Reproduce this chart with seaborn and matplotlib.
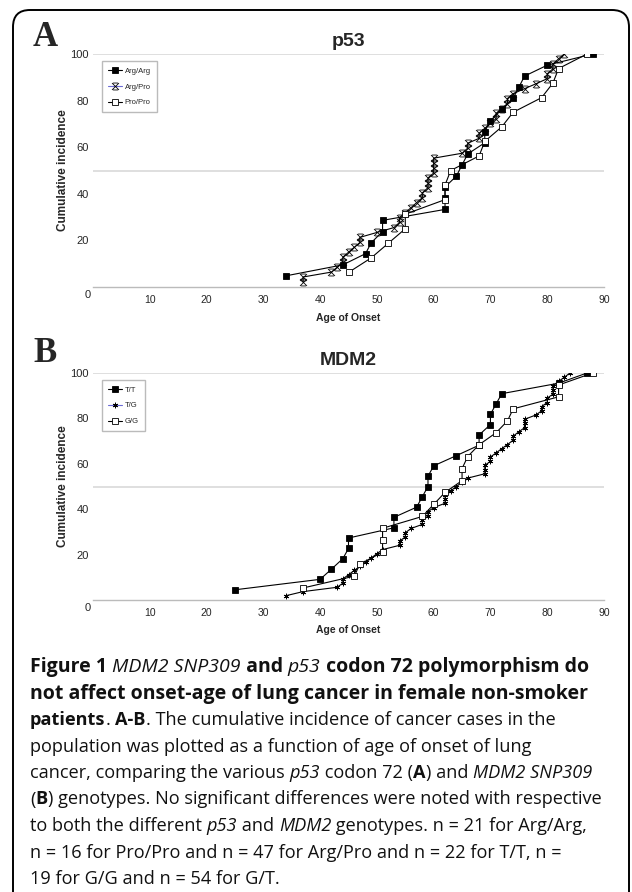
import matplotlib
matplotlib.use("Agg")
import matplotlib.pyplot as plt
from matplotlib.path import Path
from matplotlib.lines import Line2D
from matplotlib.patches import FancyBboxPatch
import seaborn as sns

# ---- panel A: p53 codon 72 (age of onset, cumulative incidence %) ----
argarg_age = [34, 44, 48, 49, 51, 51, 62, 62, 62, 64, 65, 66, 69, 69, 70, 72, 74, 75, 76, 80, 88]
argarg_inc = [4.8, 9.5, 14.3, 19.0, 23.8, 28.6, 33.3, 38.1, 42.9, 47.6, 52.4, 57.1, 61.9, 66.7,
              71.4, 76.2, 81.0, 85.7, 90.5, 95.2, 100]

argpro_age = [37, 37, 42, 43, 44, 44, 45, 46, 47, 47, 50, 53, 54, 54, 55, 56, 57, 58, 58, 59,
              59, 59, 60, 60, 60, 60, 65, 66, 66, 68, 68, 69, 70, 71, 71, 72, 73, 73, 74, 76,
              78, 80, 80, 81, 81, 82, 83]
argpro_inc = [2.1, 4.3, 6.4, 8.5, 10.6, 12.8, 14.9, 17.0, 19.1, 21.3, 23.4, 25.5, 27.7, 29.8,
              31.9, 34.0, 36.2, 38.3, 40.4, 42.6, 44.7, 46.8, 48.9, 51.1, 53.2, 55.3, 57.4,
              59.6, 61.7, 63.8, 66.0, 68.1, 70.2, 72.3, 74.5, 76.6, 78.7, 80.9, 83.0, 85.1,
              87.2, 89.4, 91.5, 93.6, 95.7, 97.9, 100]

propro_age = [45, 49, 52, 55, 55, 62, 62, 63, 68, 69, 72, 74, 79, 81, 82, 87]
propro_inc = [6.25, 12.5, 18.75, 25.0, 31.25, 37.5, 43.75, 50.0, 56.25, 62.5, 68.75, 75.0,
              81.25, 87.5, 93.75, 100]

# ---- panel B: MDM2 SNP309 ----
tt_age = [25, 40, 42, 44, 45, 45, 53, 53, 57, 58, 59, 59, 60, 64, 68, 68, 70, 70, 71, 72, 82, 87]
tt_inc = [4.5, 9.1, 13.6, 18.2, 22.7, 27.3, 31.8, 36.4, 40.9, 45.5, 50.0, 54.5, 59.1, 63.6,
          68.2, 72.7, 77.3, 81.8, 86.4, 90.9, 95.5, 100]

tg_age = [34, 37, 43, 44, 44, 45, 46, 47, 48, 49, 50, 51, 54, 54, 55, 55, 56, 58, 58, 59,
          59, 60, 62, 62, 62, 63, 64, 65, 66, 69, 69, 69, 70, 70, 71, 72, 73, 74, 74, 75,
          76, 76, 76, 78, 79, 79, 80, 80, 81, 81, 81, 82, 83, 84]
tg_inc = [1.9, 3.7, 5.6, 7.4, 9.3, 11.1, 13.0, 14.8, 16.7, 18.5, 20.4, 22.2, 24.1, 25.9,
          27.8, 29.6, 31.5, 33.3, 35.2, 37.0, 38.9, 40.7, 42.6, 44.4, 46.3, 48.1, 50.0,
          51.9, 53.7, 55.6, 57.4, 59.3, 61.1, 63.0, 64.8, 66.7, 68.5, 70.4, 72.2, 74.1,
          75.9, 77.8, 79.6, 81.5, 83.3, 85.2, 87.0, 88.9, 90.7, 92.6, 94.4, 96.3, 98.1, 100]

gg_age = [37, 46, 47, 51, 51, 51, 58, 60, 62, 65, 65, 66, 68, 71, 73, 74, 82, 82, 88]
gg_inc = [5.3, 10.5, 15.8, 21.1, 26.3, 31.6, 36.8, 42.1, 47.4, 52.6, 57.9, 63.2, 68.4, 73.7,
          78.9, 84.2, 89.5, 94.7, 100]

x_ticks = [10, 20, 30, 40, 50, 60, 70, 80, 90]
y_ticks = [20, 40, 60, 80, 100]

sns.set_style("white")
plt.rcParams["font.family"] = ["Liberation Sans", "DejaVu Sans"]

# x with bars on top and bottom (Excel style marker)
xbar = Path([(-1, -1), (1, 1), (-1, 1), (1, -1), (-0.7, 1), (0.7, 1), (-0.7, -1), (0.7, -1)],
            [Path.MOVETO, Path.LINETO] * 4)
asterisk = (6, 2, 0)

W, H = 632, 892
fig = plt.figure(figsize=(W / 100, H / 100), dpi=100)

# rounded frame around the figure
fig.add_artist(FancyBboxPatch((0.13, -0.5), 6.16, 9.32,
                              boxstyle="round,pad=0,rounding_size=0.17",
                              transform=fig.dpi_scale_trans, fill=False,
                              lw=1.4, ec="black"))


def panel(rect, series, title, letter, letter_y):
    ax = fig.add_axes(rect)
    ax.axhline(50, color="#d9d9d9", lw=1.2, zorder=0)
    ax.axhline(100, color="#d9d9d9", lw=1.2, zorder=0)
    handles = []
    for name, ages, inc, mk, ms, fc, legc in series:
        sns.lineplot(x=ages, y=inc, ax=ax, sort=False, estimator=None, color="black",
                     lw=0.8, marker=mk, markersize=ms, markerfacecolor=fc,
                     markeredgecolor="black", markeredgewidth=0.6)
        handles.append(Line2D([], [], color=legc, lw=0.8, marker=mk, markersize=ms,
                              markerfacecolor=fc, markeredgecolor="black",
                              markeredgewidth=0.6, label=name))
    ax.set_xlim(0, 90)
    ax.set_ylim(0, 100)
    ax.set_xticks(x_ticks)
    ax.set_yticks(y_ticks)
    ax.tick_params(axis="x", direction="in", length=3, color="#aaaaaa", labelsize=7.5, pad=6)
    ax.tick_params(axis="y", length=0, labelsize=8, pad=3)
    for s in ["top", "right", "left"]:
        ax.spines[s].set_visible(False)
    ax.spines["bottom"].set_color("#bbbbbb")
    ax.spines["bottom"].set_linewidth(1.0)
    ax.annotate("0", xy=(0, 0), xytext=(-4, -6), textcoords="offset points",
                ha="center", va="center", fontsize=8)
    ax.set_title(title, fontsize=14, fontweight="bold", pad=6)
    ax.set_ylabel("Cumulative incidence", fontsize=8.5, fontweight="bold")
    ax.yaxis.set_label_coords(-0.047, 0.5)
    ax.set_xlabel("Age of Onset", fontsize=7.5, fontweight="bold")
    ax.xaxis.set_label_coords(0.5, -0.11)
    ax.legend(handles=handles, loc="upper left", bbox_to_anchor=(0.01, 0.985),
              fontsize=5.5, frameon=True, fancybox=False, edgecolor="#bbbbbb",
              handlelength=1.8, handletextpad=0.4, borderpad=0.8, labelspacing=1.1,
              framealpha=1)
    fig.text(45 / W, letter_y, letter, family="Liberation Serif", fontweight="bold",
             fontsize=25, ha="center", va="center")
    return ax


blue = "#6b6bd6"
panel([93 / W, 1 - 287 / H, 511 / W, 233 / H],
      [("Arg/Arg", argarg_age, argarg_inc, "s", 4, "black", "black"),
       ("Arg/Pro", argpro_age, argpro_inc, xbar, 5, "none", blue),
       ("Pro/Pro", propro_age, propro_inc, "s", 4, "white", "black")],
      "p53", "A", 1 - 38 / H)
panel([93 / W, 1 - 600 / H, 511 / W, 227 / H],
      [("T/T", tt_age, tt_inc, "s", 5, "black", "black"),
       ("T/G", tg_age, tg_inc, asterisk, 4, "none", blue),
       ("G/G", gg_age, gg_inc, "s", 5, "white", "black")],
      "MDM2", "B", 1 - 353 / H)

# ---- caption with mixed styles ----
B, I, N = ("bold", "normal"), ("normal", "italic"), ("normal", "normal")
caption = [
    [("Figure 1 ", B), ("MDM2 SNP309", I), (" and ", B), ("p53", I), (" codon 72 polymorphism do", B)],
    [("not affect onset-age of lung cancer in female non-smoker", B)],
    [("patients", B), (". ", N), ("A-B", B), (". The cumulative incidence of cancer cases in the", N)],
    [("population was plotted as a function of age of onset of lung", N)],
    [("cancer, comparing the various ", N), ("p53", I), (" codon 72 (", N), ("A", B),
     (") and ", N), ("MDM2 SNP309", I)],
    [("(", N), ("B", B), (") genotypes. No significant differences were noted with respective", N)],
    [("to both the different ", N), ("p53", I), (" and ", N), ("MDM2", I),
     (" genotypes. n = 21 for Arg/Arg,", N)],
    [("n = 16 for Pro/Pro and n = 47 for Arg/Pro and n = 22 for T/T, n =", N)],
    [("19 for G/G and n = 54 for G/T.", N)],
]
renderer = fig.canvas.get_renderer()
base_y = 672
for i, line in enumerate(caption):
    xpos = 30
    size = 14 if i < 2 else 13.1
    for txt, (wt, st) in line:
        t = fig.text(xpos / W, 1 - (base_y + i * 26.5) / H, txt, family=["Open Sans", "DejaVu Sans"],
                     fontweight=wt, fontstyle=st, fontsize=size, ha="left", va="baseline",
                     color="#111111")
        xpos += t.get_window_extent(renderer).width

fig.savefig("out.png", dpi=100)
